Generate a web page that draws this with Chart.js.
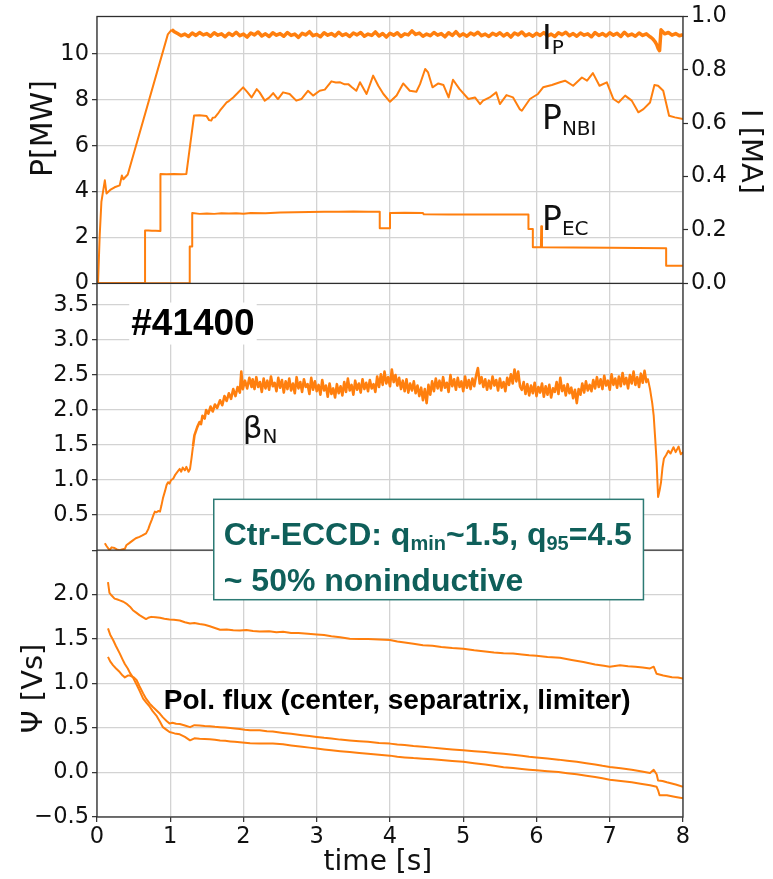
<!DOCTYPE html>
<html>
<head>
<meta charset="utf-8">
<script src="https://cdn.jsdelivr.net/npm/chart.js@4.4.1/dist/chart.umd.min.js"></script>
<style>
  html, body { margin: 0; padding: 0; background: #fff; }
  #wrap { width: 773px; height: 879px; }
</style>
</head>
<body>
<div id="wrap"><canvas id="shot" width="773" height="879"></canvas></div>
<script>
// Discharge #41400: plasma current, heating powers, beta_N and poloidal flux

// tick values per axis
const timeTicks = [0, 1, 2, 3, 4, 5, 6, 7, 8];
const pTicks = [0, 2, 4, 6, 8, 10];
const iTicks = [0, 0.2, 0.4, 0.6, 0.8, 1.0];
const betaTicks = [0, 0.5, 1.0, 1.5, 2.0, 2.5, 3.0, 3.5];
const psiTicks = [-0.5, 0, 0.5, 1.0, 1.5, 2.0];

// plasma current I_P [MA], [time s, value]
const ipPoints = [
  [0, 0], [0.014, 0], [0.037, 0.18], [0.06, 0.305], [0.107, 0.386], [0.13, 0.337], [0.18, 0.35],
  [0.24, 0.36], [0.31, 0.367], [0.34, 0.404], [0.36, 0.39], [0.42, 0.408], [0.967, 0.933], [1.02, 0.951],
  [1.05, 0.944], [1.10, 0.936], [1.15, 0.928], [1.20, 0.934], [1.25, 0.925], [1.30, 0.938], [1.35, 0.929], [1.40, 0.940], [1.45, 0.931], [1.50, 0.936],
  [1.55, 0.926], [1.60, 0.939], [1.65, 0.930], [1.70, 0.935], [1.75, 0.924], [1.80, 0.937], [1.85, 0.929], [1.90, 0.941], [1.95, 0.928], [2.00, 0.934],
  [2.05, 0.923], [2.10, 0.938], [2.15, 0.931], [2.20, 0.942], [2.25, 0.927], [2.30, 0.935], [2.35, 0.925], [2.40, 0.939], [2.45, 0.930], [2.50, 0.936],
  [2.55, 0.926], [2.60, 0.940], [2.65, 0.929], [2.70, 0.934], [2.75, 0.922], [2.80, 0.937], [2.85, 0.931], [2.90, 0.943], [2.95, 0.928], [3.00, 0.933],
  [3.05, 0.924], [3.10, 0.939], [3.15, 0.930], [3.20, 0.936], [3.25, 0.927], [3.30, 0.941], [3.35, 0.929], [3.40, 0.935], [3.45, 0.925], [3.50, 0.938],
  [3.55, 0.931], [3.60, 0.940], [3.65, 0.926], [3.70, 0.934], [3.75, 0.929], [3.80, 0.942], [3.85, 0.927], [3.90, 0.936], [3.95, 0.923], [4.00, 0.937],
  [4.05, 0.930], [4.10, 0.939], [4.15, 0.925], [4.20, 0.935], [4.25, 0.931], [4.30, 0.946], [4.35, 0.933], [4.40, 0.938], [4.45, 0.926], [4.50, 0.934],
  [4.55, 0.928], [4.60, 0.940], [4.65, 0.930], [4.70, 0.936], [4.75, 0.924], [4.80, 0.939], [4.85, 0.929], [4.90, 0.943], [4.95, 0.927], [5.00, 0.935],
  [5.05, 0.926], [5.10, 0.938], [5.15, 0.931], [5.20, 0.941], [5.25, 0.928], [5.30, 0.934], [5.35, 0.925], [5.40, 0.937], [5.45, 0.930], [5.50, 0.939],
  [5.55, 0.927], [5.60, 0.936], [5.65, 0.923], [5.70, 0.938], [5.75, 0.931], [5.80, 0.942], [5.85, 0.928], [5.90, 0.935], [5.95, 0.926], [6.00, 0.937],
  [6.05, 0.929], [6.10, 0.940], [6.15, 0.927], [6.20, 0.934], [6.25, 0.925], [6.30, 0.939], [6.35, 0.932], [6.40, 0.941], [6.45, 0.928], [6.50, 0.936],
  [6.55, 0.926], [6.60, 0.938], [6.65, 0.930], [6.70, 0.935], [6.75, 0.924], [6.80, 0.940], [6.85, 0.929], [6.90, 0.936], [6.95, 0.927], [7.00, 0.939],
  [7.05, 0.930], [7.10, 0.937], [7.15, 0.925], [7.20, 0.941], [7.25, 0.928], [7.30, 0.934], [7.35, 0.926], [7.40, 0.938], [7.45, 0.929], [7.50, 0.935],
  [7.55, 0.924], [7.58, 0.918], [7.60, 0.912], [7.62, 0.905], [7.64, 0.895], [7.66, 0.880], [7.68, 0.872], [7.70, 0.950],
  [7.72, 0.944], [7.75, 0.935], [7.80, 0.940], [7.85, 0.930], [7.90, 0.936], [7.95, 0.928], [8.00, 0.932]
];

// neutral beam power P_NBI [MW]
const nbiPoints = [
  [0, 0], [0.656, 0], [0.656, 2.31], [0.70, 2.30], [0.75, 2.29], [0.80, 2.29], [0.866, 2.28], [0.866, 4.77],
  [0.95, 4.76], [1.05, 4.77], [1.15, 4.76], [1.22, 4.77], [1.27, 6.0], [1.325, 7.32], [1.40, 7.33], [1.495, 7.30],
  [1.53, 7.12], [1.56, 7.10], [1.58, 7.22], [1.61, 7.24], [1.65, 7.40], [1.68, 7.54], [1.72, 7.70], [1.77, 7.89],
  [1.80, 7.95], [1.86, 8.11], [1.92, 8.30], [1.995, 8.55], [2.05, 8.35], [2.11, 8.11], [2.18, 8.47], [2.22, 8.33],
  [2.29, 7.97], [2.35, 8.10], [2.405, 8.30], [2.47, 8.04], [2.54, 8.33], [2.63, 8.26], [2.72, 7.97], [2.79, 8.04],
  [2.88, 8.40], [2.95, 8.19], [3.04, 8.40], [3.11, 8.45], [3.20, 8.81], [3.26, 8.76], [3.32, 8.77], [3.38, 8.68],
  [3.43, 8.69], [3.48, 8.55], [3.54, 8.40], [3.59, 8.77], [3.68, 8.26], [3.77, 9.06], [3.84, 8.62], [3.91, 8.26],
  [4.00, 7.92], [4.09, 8.19], [4.18, 8.72], [4.27, 8.40], [4.36, 8.36], [4.41, 8.69], [4.48, 9.35], [4.52, 9.20],
  [4.58, 8.55], [4.66, 8.72], [4.73, 8.65], [4.80, 8.11], [4.86, 8.88], [4.95, 8.47], [5.07, 8.04], [5.16, 8.11],
  [5.23, 7.82], [5.27, 7.97], [5.36, 8.11], [5.45, 8.33], [5.50, 7.82], [5.59, 8.21], [5.68, 8.11], [5.77, 7.60],
  [5.80, 7.53], [5.91, 8.04], [6.02, 8.26], [6.09, 8.55], [6.21, 8.65], [6.32, 8.77], [6.39, 8.84], [6.50, 8.62],
  [6.62, 8.98], [6.69, 8.84], [6.77, 9.17], [6.86, 8.62], [6.96, 8.77], [7.05, 8.04], [7.12, 7.89], [7.21, 8.19],
  [7.30, 7.97], [7.39, 7.46], [7.46, 7.60], [7.55, 7.89], [7.61, 8.65], [7.66, 8.62], [7.73, 8.40], [7.81, 7.31],
  [7.89, 7.24], [8.00, 7.17]
];

// electron cyclotron power P_EC [MW]
const ecPoints = [
  [0, 0], [1.266, 0], [1.266, 1.61], [1.30, 1.61], [1.30, 3.07], [1.40, 3.03], [1.50, 3.05], [1.60, 3.03],
  [1.70, 3.06], [1.80, 3.05], [1.90, 3.06], [2.00, 3.04], [2.10, 3.07], [2.30, 3.06], [2.50, 3.09], [2.70, 3.10],
  [2.90, 3.11], [3.10, 3.12], [3.30, 3.12], [3.50, 3.13], [3.70, 3.12], [3.86, 3.12], [3.86, 2.40], [4.00, 2.40],
  [4.00, 3.07], [4.20, 3.08], [4.45, 3.07], [4.46, 3.01], [4.80, 3.00], [5.20, 3.00], [5.60, 3.00], [5.89, 3.00],
  [5.89, 2.37], [5.95, 2.37], [5.95, 1.57], [6.06, 1.57], [6.065, 2.49], [6.075, 1.57], [6.50, 1.56], [7.00, 1.55],
  [7.77, 1.53], [7.77, 0.77], [8.00, 0.77]
];

// normalised beta
const betaPoints = [
  [0.107, 0.10], [0.13, 0.06], [0.17, 0.00], [0.20, 0.04], [0.24, 0.03], [0.27, 0.01], [0.31, 0.00], [0.34, 0.01],
  [0.38, 0.02], [0.40, 0.07], [0.44, 0.10], [0.49, 0.14], [0.53, 0.17], [0.58, 0.19], [0.62, 0.21], [0.67, 0.24],
  [0.70, 0.30], [0.72, 0.36], [0.75, 0.44], [0.77, 0.50], [0.79, 0.55], [0.81, 0.54], [0.84, 0.56], [0.86, 0.55],
  [0.88, 0.64], [0.90, 0.74], [0.93, 0.85], [0.95, 0.93], [0.97, 0.97], [0.99, 0.95], [1.01, 1.00], [1.04, 1.02],
  [1.07, 1.08], [1.10, 1.12], [1.13, 1.16], [1.15, 1.12], [1.17, 1.18], [1.20, 1.14], [1.22, 1.19], [1.25, 1.12],
  [1.27, 1.16], [1.29, 1.31], [1.31, 1.48], [1.33, 1.64], [1.35, 1.70], [1.37, 1.76], [1.40, 1.83], [1.42, 1.80],
  [1.44, 1.92], [1.47, 1.88], [1.49, 2.00], [1.52, 1.95], [1.55, 2.05], [1.58, 1.98], [1.61, 2.08], [1.64, 2.03],
  [1.68, 2.14], [1.71, 2.07], [1.74, 2.20], [1.77, 2.13], [1.80, 2.24], [1.83, 2.16], [1.86, 2.30], [1.89, 2.20],
  [1.92, 2.33], [1.95, 2.25], [1.97, 2.55], [1.99, 2.30], [2.02, 2.42], [2.05, 2.31], [2.08, 2.46], [2.11, 2.33],
  [2.125, 2.44], [2.15, 2.30], [2.175, 2.47], [2.2, 2.33], [2.225, 2.40], [2.25, 2.26], [2.275, 2.45], [2.3, 2.31], [2.325, 2.42], [2.35, 2.29],
  [2.375, 2.48], [2.4, 2.34], [2.425, 2.39], [2.45, 2.27], [2.475, 2.46], [2.5, 2.32], [2.525, 2.43], [2.55, 2.25], [2.575, 2.41], [2.6, 2.30],
  [2.625, 2.45], [2.65, 2.28], [2.675, 2.38], [2.7, 2.24], [2.725, 2.47], [2.75, 2.31], [2.775, 2.40], [2.8, 2.26], [2.825, 2.44], [2.85, 2.33],
  [2.875, 2.37], [2.9, 2.23], [2.925, 2.46], [2.95, 2.29], [2.975, 2.41], [3.0, 2.27], [3.025, 2.36], [3.05, 2.22], [3.075, 2.43], [3.1, 2.28],
  [3.125, 2.35], [3.15, 2.19], [3.175, 2.38], [3.2, 2.23], [3.225, 2.31], [3.25, 2.18], [3.275, 2.37], [3.3, 2.24], [3.325, 2.34], [3.35, 2.21],
  [3.375, 2.40], [3.4, 2.26], [3.425, 2.45], [3.45, 2.28], [3.475, 2.36], [3.5, 2.22], [3.525, 2.42], [3.55, 2.29], [3.575, 2.38], [3.6, 2.25],
  [3.625, 2.44], [3.65, 2.30], [3.675, 2.39], [3.7, 2.27], [3.725, 2.43], [3.75, 2.31], [3.775, 2.37], [3.8, 2.26], [3.825, 2.48], [3.85, 2.33],
  [3.875, 2.51], [3.9, 2.36], [3.925, 2.55], [3.95, 2.38], [3.975, 2.47], [4.0, 2.34], [4.025, 2.58], [4.05, 2.40], [4.075, 2.50], [4.1, 2.35],
  [4.125, 2.46], [4.15, 2.30], [4.175, 2.42], [4.2, 2.27], [4.225, 2.44], [4.25, 2.25], [4.275, 2.38], [4.3, 2.28], [4.325, 2.41], [4.35, 2.24],
  [4.375, 2.35], [4.4, 2.20], [4.425, 2.32], [4.45, 2.14], [4.475, 2.30], [4.5, 2.10], [4.525, 2.36], [4.55, 2.22], [4.575, 2.41], [4.6, 2.27],
  [4.625, 2.45], [4.65, 2.31], [4.675, 2.42], [4.7, 2.28], [4.725, 2.47], [4.75, 2.32], [4.775, 2.39], [4.8, 2.26], [4.825, 2.50], [4.85, 2.34],
  [4.875, 2.44], [4.9, 2.29], [4.925, 2.46], [4.95, 2.33], [4.975, 2.41], [5.0, 2.27], [5.025, 2.48], [5.05, 2.32], [5.075, 2.43], [5.1, 2.30],
  [5.125, 2.45], [5.15, 2.34], [5.175, 2.49], [5.2, 2.60], [5.225, 2.38], [5.25, 2.47], [5.275, 2.33], [5.3, 2.44], [5.325, 2.29], [5.35, 2.42],
  [5.375, 2.31], [5.4, 2.48], [5.425, 2.35], [5.45, 2.43], [5.475, 2.28], [5.5, 2.45], [5.525, 2.32], [5.55, 2.40], [5.575, 2.27], [5.6, 2.46],
  [5.625, 2.36], [5.65, 2.51], [5.675, 2.38], [5.7, 2.58], [5.725, 2.41], [5.75, 2.55], [5.775, 2.34], [5.8, 2.29], [5.825, 2.40], [5.85, 2.23],
  [5.875, 2.37], [5.9, 2.21], [5.925, 2.35], [5.95, 2.24], [5.975, 2.39], [6.0, 2.20], [6.025, 2.33], [6.05, 2.25], [6.075, 2.38], [6.1, 2.19],
  [6.125, 2.34], [6.15, 2.22], [6.175, 2.36], [6.2, 2.18], [6.225, 2.31], [6.25, 2.26], [6.275, 2.40], [6.3, 2.23], [6.325, 2.46], [6.35, 2.27],
  [6.375, 2.35], [6.4, 2.21], [6.425, 2.37], [6.45, 2.24], [6.475, 2.32], [6.5, 2.17], [6.525, 2.29], [6.55, 2.10], [6.575, 2.30], [6.6, 2.22],
  [6.625, 2.38], [6.65, 2.25], [6.675, 2.41], [6.7, 2.28], [6.725, 2.36], [6.75, 2.27], [6.775, 2.43], [6.8, 2.31], [6.825, 2.47], [6.85, 2.33],
  [6.875, 2.44], [6.9, 2.30], [6.925, 2.49], [6.95, 2.35], [6.975, 2.42], [7.0, 2.29], [7.025, 2.51], [7.05, 2.36], [7.075, 2.45], [7.1, 2.32],
  [7.125, 2.48], [7.15, 2.34], [7.175, 2.53], [7.2, 2.37], [7.225, 2.46], [7.25, 2.31], [7.275, 2.50], [7.3, 2.38], [7.325, 2.55], [7.35, 2.36],
  [7.375, 2.47], [7.4, 2.33], [7.425, 2.52], [7.45, 2.39], [7.475, 2.56], [7.5, 2.40],
  [7.52, 2.45], [7.55, 2.30], [7.58, 2.10], [7.60, 1.92], [7.62, 1.60], [7.64, 1.26], [7.65, 1.00], [7.66, 0.76],
  [7.68, 0.85], [7.70, 0.97], [7.72, 1.18], [7.74, 1.31], [7.77, 1.36], [7.80, 1.42], [7.83, 1.38], [7.87, 1.47],
  [7.90, 1.40], [7.94, 1.48], [7.97, 1.37], [8.00, 1.40]
];

// poloidal flux [Vs] at the centre, separatrix and limiter
const psiCenter = [
  [0.15, 2.14], [0.17, 2.02], [0.20, 1.99], [0.24, 1.955], [0.28, 1.945], [0.31, 1.936], [0.36, 1.92], [0.40, 1.90],
  [0.45, 1.865], [0.49, 1.825], [0.54, 1.795], [0.58, 1.77], [0.63, 1.745], [0.67, 1.725], [0.70, 1.74], [0.74, 1.75],
  [0.80, 1.745], [0.86, 1.74], [0.92, 1.73], [0.99, 1.72], [1.05, 1.717], [1.13, 1.71], [1.20, 1.69], [1.27, 1.675],
  [1.33, 1.68], [1.40, 1.67], [1.47, 1.662], [1.54, 1.645], [1.61, 1.625], [1.68, 1.605], [1.77, 1.608], [1.86, 1.60],
  [1.95, 1.598], [2.04, 1.603], [2.13, 1.592], [2.22, 1.585], [2.35, 1.588], [2.45, 1.578], [2.54, 1.582], [2.65, 1.57],
  [2.75, 1.568], [2.88, 1.56], [3.00, 1.552], [3.10, 1.545], [3.20, 1.532], [3.32, 1.52], [3.45, 1.505], [3.58, 1.502],
  [3.70, 1.50], [3.85, 1.495], [4.00, 1.49], [4.10, 1.472], [4.20, 1.462], [4.32, 1.448], [4.45, 1.432], [4.58, 1.425],
  [4.70, 1.412], [4.85, 1.40], [5.00, 1.392], [5.15, 1.375], [5.30, 1.362], [5.42, 1.35], [5.55, 1.342], [5.68, 1.338],
  [5.80, 1.328], [5.90, 1.318], [6.00, 1.312], [6.15, 1.30], [6.32, 1.29], [6.48, 1.265], [6.64, 1.242], [6.80, 1.215],
  [6.92, 1.20], [7.00, 1.19], [7.14, 1.205], [7.25, 1.195], [7.35, 1.19], [7.45, 1.18], [7.55, 1.17], [7.60, 1.19],
  [7.64, 1.11], [7.73, 1.09], [7.85, 1.072], [7.93, 1.068], [8.00, 1.056]
];
const psiSeparatrix = [
  [0.15, 1.30], [0.18, 1.25], [0.22, 1.205], [0.26, 1.17], [0.31, 1.13], [0.35, 1.09], [0.38, 1.07], [0.42, 1.09],
  [0.45, 1.09], [0.50, 1.07], [0.54, 1.04], [0.58, 0.97], [0.63, 0.89], [0.67, 0.83], [0.72, 0.775], [0.76, 0.74],
  [0.81, 0.70], [0.86, 0.66], [0.90, 0.62], [0.95, 0.58], [0.99, 0.55], [1.03, 0.56], [1.08, 0.548], [1.13, 0.545],
  [1.20, 0.528], [1.27, 0.51], [1.33, 0.532], [1.40, 0.528], [1.47, 0.522], [1.54, 0.52], [1.61, 0.514], [1.68, 0.51],
  [1.75, 0.505], [1.82, 0.50], [1.88, 0.495], [1.95, 0.49], [2.02, 0.482], [2.09, 0.476], [2.22, 0.475], [2.32, 0.465],
  [2.40, 0.46], [2.54, 0.445], [2.65, 0.435], [2.80, 0.42], [2.90, 0.41], [3.00, 0.40], [3.10, 0.39], [3.20, 0.382],
  [3.32, 0.37], [3.45, 0.36], [3.58, 0.352], [3.70, 0.345], [3.85, 0.333], [4.00, 0.325], [4.10, 0.315], [4.20, 0.31],
  [4.32, 0.298], [4.45, 0.29], [4.58, 0.28], [4.70, 0.27], [4.85, 0.26], [5.00, 0.25], [5.15, 0.24], [5.30, 0.23],
  [5.42, 0.22], [5.55, 0.21], [5.68, 0.20], [5.80, 0.188], [5.90, 0.178], [6.00, 0.17], [6.15, 0.158], [6.30, 0.145],
  [6.42, 0.132], [6.55, 0.12], [6.68, 0.105], [6.80, 0.09], [6.90, 0.075], [7.00, 0.062], [7.15, 0.048], [7.30, 0.032],
  [7.42, 0.015], [7.55, -0.005], [7.60, 0.03], [7.64, -0.02], [7.66, -0.09], [7.72, -0.095], [7.78, -0.11], [7.90, -0.135],
  [8.00, -0.16]
];
const psiLimiter = [
  [0.15, 1.62], [0.18, 1.55], [0.22, 1.49], [0.26, 1.42], [0.31, 1.34], [0.35, 1.27], [0.38, 1.22], [0.42, 1.17],
  [0.45, 1.12], [0.49, 1.07], [0.54, 0.99], [0.58, 0.92], [0.63, 0.83], [0.67, 0.79], [0.72, 0.74], [0.76, 0.69],
  [0.81, 0.64], [0.86, 0.57], [0.90, 0.51], [0.95, 0.48], [0.99, 0.455], [1.06, 0.44], [1.13, 0.43], [1.20, 0.40],
  [1.27, 0.362], [1.33, 0.385], [1.40, 0.38], [1.47, 0.378], [1.54, 0.375], [1.61, 0.368], [1.68, 0.36], [1.75, 0.356],
  [1.82, 0.35], [1.88, 0.345], [1.95, 0.34], [2.02, 0.335], [2.09, 0.33], [2.22, 0.326], [2.32, 0.327], [2.40, 0.325],
  [2.54, 0.318], [2.65, 0.305], [2.80, 0.29], [2.90, 0.28], [3.00, 0.27], [3.10, 0.26], [3.20, 0.25], [3.32, 0.24],
  [3.45, 0.23], [3.58, 0.22], [3.70, 0.21], [3.85, 0.20], [4.00, 0.19], [4.10, 0.178], [4.20, 0.17], [4.32, 0.162],
  [4.45, 0.156], [4.58, 0.148], [4.70, 0.14], [4.85, 0.13], [5.00, 0.12], [5.15, 0.105], [5.30, 0.09], [5.42, 0.075],
  [5.55, 0.06], [5.68, 0.05], [5.80, 0.04], [5.90, 0.032], [6.00, 0.025], [6.15, 0.015], [6.30, 0.005], [6.42, -0.008],
  [6.55, -0.02], [6.68, -0.035], [6.80, -0.05], [6.90, -0.065], [7.00, -0.08], [7.15, -0.095], [7.30, -0.11], [7.42, -0.125],
  [7.55, -0.144], [7.64, -0.16], [7.66, -0.20], [7.68, -0.256], [7.78, -0.256], [7.90, -0.275], [8.00, -0.29]
];

const orange = "#ff7f0e";
const gridColor = "#d3d3d3";
const frameColor = "#2e2e2e";
const teal = "#0f5f5a";
const tickFont = { family: "DejaVu Sans", size: 22.5 };

Chart.defaults.font.family = "DejaVu Sans";
Chart.defaults.color = "#111";

// noisy flat-tops read as a thicker band from the given time on
function trace(label, list, axis, bandFrom, bandWidth) {
  const set = {
    label: label,
    data: list.map(function (p) { return { x: p[0], y: p[1] }; }),
    yAxisID: axis,
    borderColor: orange,
    backgroundColor: orange,
    borderWidth: 2,
    borderJoinStyle: "round",
    pointRadius: 0,
    fill: false,
    tension: 0
  };
  if (bandWidth) {
    set.segment = {
      borderWidth: function (c) {
        const t = c.p0.parsed.x;
        return t >= bandFrom[0] && t < bandFrom[1] ? bandWidth : 2;
      }
    };
  }
  return set;
}

function minus(v) {
  return v.toFixed(1).replace("-", "\u2212");
}

function leftAxis(min, max, values, fmt) {
  return {
    type: "linear", position: "left", stack: "left", stackWeight: 1, min: min, max: max,
    afterBuildTicks: function (s) { s.ticks = values.map(function (v) { return { value: v }; }); },
    afterFit: function (s) { s.width = 97; },
    ticks: { font: tickFont, color: "#111", padding: 3, autoSkip: false, callback: fmt },
    grid: { color: gridColor, lineWidth: 1.3, tickColor: frameColor, tickWidth: 1.2, tickLength: 5 },
    border: { display: false }
  };
}

function spacerAxis() {
  return {
    type: "linear", position: "right", stack: "right", stackWeight: 1,
    afterFit: function (s) { s.width = 90; },
    ticks: { display: false },
    grid: { display: false },
    border: { display: false }
  };
}

// draws a run of [text, size, drop] pieces left to right
function runs(ctx, pieces, x, y, weight, family) {
  pieces.forEach(function (p) {
    ctx.font = weight + " " + p[1] + "px " + family;
    ctx.fillText(p[0], x, y + (p[2] || 0));
    x += ctx.measureText(p[0]).width;
  });
}

function rotated(ctx, text, x, y, angle, font) {
  ctx.save();
  ctx.translate(x, y);
  ctx.rotate(angle);
  ctx.font = font;
  ctx.textAlign = "center";
  ctx.textBaseline = "middle";
  ctx.fillText(text, 0, 0);
  ctx.restore();
}

const decor = {
  id: "decor",
  afterDatasetsDraw: function (chart) {
    const ctx = chart.ctx;
    const area = chart.chartArea;
    const x = chart.scales.x, yP = chart.scales.yP, yI = chart.scales.yI;
    const yB = chart.scales.yBeta, yS = chart.scales.yPsi;
    ctx.save();

    // panel frame and separators
    ctx.strokeStyle = frameColor;
    ctx.lineWidth = 1.3;
    ctx.strokeRect(area.left, area.top, area.width, area.height);
    [yP.bottom, yB.bottom].forEach(function (yy) {
      ctx.beginPath();
      ctx.moveTo(area.left, yy);
      ctx.lineTo(area.right, yy);
      ctx.stroke();
    });

    // axis titles
    ctx.fillStyle = "#111";
    rotated(ctx, "P[MW]", 44, yP.getPixelForValue(6.75), -Math.PI / 2, "30px 'DejaVu Sans'");
    rotated(ctx, "I [MA]", 749.5, yI.getPixelForValue(0.494), Math.PI / 2, "29px 'DejaVu Sans'");
    rotated(ctx, "\u03a8 [Vs]", 34, yS.getPixelForValue(0.946), -Math.PI / 2, "29px 'DejaVu Sans'");
    ctx.font = "28px 'DejaVu Sans'";
    ctx.textAlign = "center";
    ctx.textBaseline = "alphabetic";
    ctx.fillText("time [s]", x.getPixelForValue(3.835), 870);

    // trace labels
    ctx.textAlign = "left";
    const lx = x.getPixelForValue(6.075);
    runs(ctx, [["I", 33], ["P", 20, 5]], lx, yI.getPixelForValue(0.878), "normal", "'DejaVu Sans'");
    runs(ctx, [["P", 33], ["NBI", 20, 6]], lx, yP.getPixelForValue(6.74), "normal", "'DejaVu Sans'");
    runs(ctx, [["P", 33], ["EC", 20, 5]], lx, yP.getPixelForValue(2.32), "normal", "'DejaVu Sans'");
    runs(ctx, [["\u03b2", 31], ["N", 20, 5]], x.getPixelForValue(1.99), yB.getPixelForValue(1.605), "normal", "'DejaVu Sans'");

    // shot number on a white patch
    const sx = x.getPixelForValue(1.31), sy = yB.getPixelForValue(3.236);
    ctx.font = "bold 37px 'Liberation Sans'";
    const sw = ctx.measureText("#41400").width;
    ctx.fillStyle = "#fff";
    ctx.fillRect(sx - sw / 2 - 2, sy - 21, sw + 4, 42);
    ctx.fillStyle = "#000";
    ctx.textAlign = "center";
    ctx.textBaseline = "middle";
    ctx.fillText("#41400", sx, sy + 1);

    // scenario note
    const bl = x.getPixelForValue(1.594), br = x.getPixelForValue(7.46);
    const bt = yB.getPixelForValue(0.726), bb = yS.getPixelForValue(1.943);
    ctx.fillStyle = "#fff";
    ctx.fillRect(bl, bt, br - bl, bb - bt);
    ctx.strokeStyle = "#2c7a74";
    ctx.lineWidth = 1.5;
    ctx.strokeRect(bl, bt, br - bl, bb - bt);
    ctx.fillStyle = teal;
    ctx.textAlign = "left";
    ctx.textBaseline = "alphabetic";
    runs(ctx, [["Ctr-ECCD: q", 32], ["min", 20, 5], ["~1.5, q", 32], ["95", 20, 5], ["=4.5", 32]],
      bl + 10, bt + 46, "bold", "'Liberation Sans'");
    runs(ctx, [["~ 50% noninductive", 32]], bl + 10, bt + 92, "bold", "'Liberation Sans'");

    // flux annotation
    ctx.fillStyle = "#000";
    ctx.font = "bold 28px 'Liberation Sans'";
    ctx.fillText("Pol. flux (center, separatrix, limiter)", x.getPixelForValue(0.911), yS.getPixelForValue(0.71));

    ctx.restore();
  }
};

new Chart(document.getElementById("shot"), {
  type: "line",
  data: {
    datasets: [
      trace("I_P", ipPoints, "yI", [1.02, 8.1], 3.5),
      trace("P_NBI", nbiPoints, "yP"),
      trace("P_EC", ecPoints, "yP"),
      trace("beta_N", betaPoints, "yBeta", [1.3, 7.52], 2.6),
      trace("psi center", psiCenter, "yPsi"),
      trace("psi separatrix", psiSeparatrix, "yPsi"),
      trace("psi limiter", psiLimiter, "yPsi")
    ]
  },
  options: {
    responsive: false,
    animation: false,
    devicePixelRatio: 1,
    layout: { padding: { top: 14, left: 0, right: 0, bottom: 0 } },
    plugins: { legend: { display: false }, tooltip: { enabled: false } },
    scales: {
      x: {
        type: "linear", position: "bottom", min: 0, max: 8,
        afterBuildTicks: function (s) { s.ticks = timeTicks.map(function (v) { return { value: v }; }); },
        afterFit: function (s) { s.height = 62; },
        ticks: { font: tickFont, color: "#111", padding: 2, maxRotation: 0, autoSkip: false },
        grid: { color: gridColor, lineWidth: 1.3, tickColor: frameColor, tickWidth: 1.2, tickLength: 5 },
        border: { display: false }
      },
      yPsi: leftAxis(-0.5, 2.5, psiTicks, minus),
      yBeta: leftAxis(0, 3.81, betaTicks, function (v) { return v === 0 ? "" : v.toFixed(1); }),
      yP: leftAxis(0, 11.64, pTicks, function (v) { return String(v); }),
      yI: {
        type: "linear", position: "right", stack: "right", stackWeight: 1, min: 0, max: 1,
        afterBuildTicks: function (s) { s.ticks = iTicks.map(function (v) { return { value: v }; }); },
        afterFit: function (s) { s.width = 90; },
        ticks: { font: tickFont, color: "#111", padding: 3, autoSkip: false, callback: function (v) { return v.toFixed(1); } },
        grid: { drawOnChartArea: false, tickColor: frameColor, tickWidth: 1.2, tickLength: 5 },
        border: { display: false }
      },
      rMid: spacerAxis(),
      rBot: spacerAxis()
    }
  },
  plugins: [decor]
});
</script>
</body>
</html>
